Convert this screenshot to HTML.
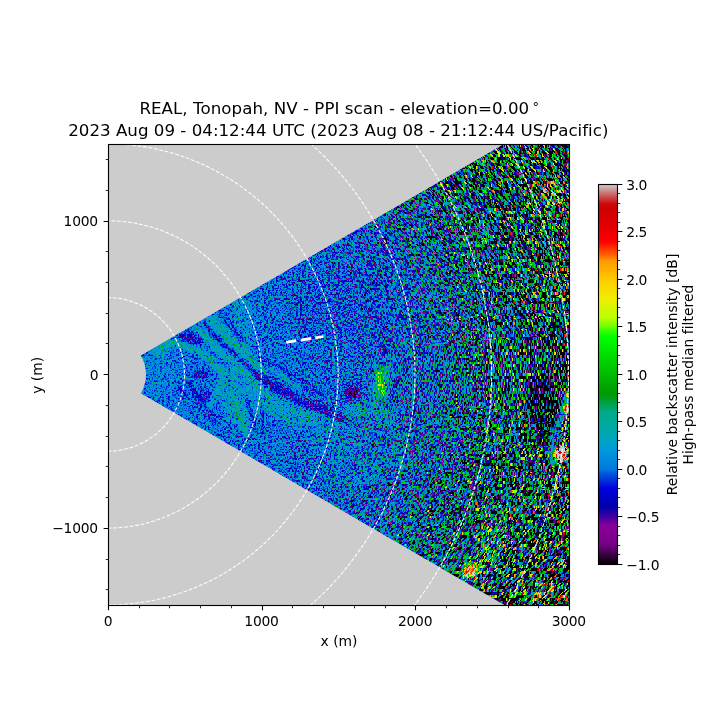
<!DOCTYPE html>
<html lang="en"><head><meta charset="utf-8"><title>REAL PPI scan</title>
<style>html,body{margin:0;padding:0;background:#fff;}body{width:720px;height:720px;overflow:hidden;}svg{display:block;}text{font-family:"DejaVu Sans","Liberation Sans",sans-serif;fill:#000;}</style>
</head><body>
<svg width="720" height="720" viewBox="0 0 720 720">
<defs>
<linearGradient id="cb" x1="0" y1="0" x2="0" y2="1"><stop offset="0.0000" stop-color="#cccccc"/><stop offset="0.0125" stop-color="#cc9c9c"/><stop offset="0.0250" stop-color="#cc6c6c"/><stop offset="0.0375" stop-color="#cc3c3c"/><stop offset="0.0500" stop-color="#cc0c0c"/><stop offset="0.0625" stop-color="#cf0000"/><stop offset="0.0750" stop-color="#d40000"/><stop offset="0.0875" stop-color="#d80000"/><stop offset="0.1000" stop-color="#dc0000"/><stop offset="0.1125" stop-color="#e40000"/><stop offset="0.1250" stop-color="#ec0000"/><stop offset="0.1375" stop-color="#f60000"/><stop offset="0.1500" stop-color="#fe0000"/><stop offset="0.1625" stop-color="#ff2100"/><stop offset="0.1750" stop-color="#ff4500"/><stop offset="0.1875" stop-color="#ff6900"/><stop offset="0.2000" stop-color="#ff9900"/><stop offset="0.2125" stop-color="#ffa500"/><stop offset="0.2250" stop-color="#ffb100"/><stop offset="0.2375" stop-color="#ffbd00"/><stop offset="0.2500" stop-color="#ffc900"/><stop offset="0.2625" stop-color="#fbd500"/><stop offset="0.2750" stop-color="#f7dd00"/><stop offset="0.2875" stop-color="#f3e500"/><stop offset="0.3000" stop-color="#efed00"/><stop offset="0.3125" stop-color="#e4f100"/><stop offset="0.3250" stop-color="#d4f700"/><stop offset="0.3375" stop-color="#c8fb00"/><stop offset="0.3500" stop-color="#bcff00"/><stop offset="0.3625" stop-color="#93ff00"/><stop offset="0.3750" stop-color="#67ff00"/><stop offset="0.3875" stop-color="#2cff00"/><stop offset="0.4000" stop-color="#00ff00"/><stop offset="0.4125" stop-color="#00f700"/><stop offset="0.4250" stop-color="#00ef00"/><stop offset="0.4375" stop-color="#00e700"/><stop offset="0.4500" stop-color="#00dc00"/><stop offset="0.4625" stop-color="#00d400"/><stop offset="0.4750" stop-color="#00cc00"/><stop offset="0.4875" stop-color="#00c400"/><stop offset="0.5000" stop-color="#00bc00"/><stop offset="0.5125" stop-color="#00b200"/><stop offset="0.5250" stop-color="#00aa00"/><stop offset="0.5375" stop-color="#00a200"/><stop offset="0.5500" stop-color="#009a00"/><stop offset="0.5625" stop-color="#009d1d"/><stop offset="0.5750" stop-color="#00a248"/><stop offset="0.5875" stop-color="#00a668"/><stop offset="0.6000" stop-color="#00aa88"/><stop offset="0.6125" stop-color="#00aa90"/><stop offset="0.6250" stop-color="#00aa98"/><stop offset="0.6375" stop-color="#00aaa3"/><stop offset="0.6500" stop-color="#00aaab"/><stop offset="0.6625" stop-color="#00a6b7"/><stop offset="0.6750" stop-color="#00a2c3"/><stop offset="0.6875" stop-color="#009ecf"/><stop offset="0.7000" stop-color="#0098dd"/><stop offset="0.7125" stop-color="#0090dd"/><stop offset="0.7250" stop-color="#0088dd"/><stop offset="0.7375" stop-color="#0080dd"/><stop offset="0.7500" stop-color="#0078dd"/><stop offset="0.7625" stop-color="#0054dd"/><stop offset="0.7750" stop-color="#0038dd"/><stop offset="0.7875" stop-color="#001cdd"/><stop offset="0.8000" stop-color="#0000dd"/><stop offset="0.8125" stop-color="#0000d1"/><stop offset="0.8250" stop-color="#0000c1"/><stop offset="0.8375" stop-color="#0000b5"/><stop offset="0.8500" stop-color="#0300aa"/><stop offset="0.8625" stop-color="#2300a6"/><stop offset="0.8750" stop-color="#4300a2"/><stop offset="0.8875" stop-color="#6d009c"/><stop offset="0.9000" stop-color="#870098"/><stop offset="0.9125" stop-color="#830094"/><stop offset="0.9250" stop-color="#7f0090"/><stop offset="0.9375" stop-color="#7b008c"/><stop offset="0.9500" stop-color="#700080"/><stop offset="0.9625" stop-color="#540060"/><stop offset="0.9750" stop-color="#380040"/><stop offset="0.9875" stop-color="#1c0020"/><stop offset="1.0000" stop-color="#000000"/></linearGradient>
<clipPath id="axclip"><rect x="108.50" y="144.50" width="461.00" height="461.00"/></clipPath>
<clipPath id="zc0"><path clip-rule="evenodd" d="M108.50 374.40m261.23 0a261.23 261.23 0 1 0 -522.47 0a261.23 261.23 0 1 0 522.47 0zM108.50 374.40m36.50 0a36.50 36.50 0 1 0 -73.00 0a36.50 36.50 0 1 0 73.00 0z"/></clipPath>
<filter id="fz0" filterUnits="userSpaceOnUse" x="106" y="142" width="549" height="465" color-interpolation-filters="sRGB">
<feTurbulence type="fractalNoise" baseFrequency="0.73 0.69" numOctaves="1" seed="5" result="t"/>
<feColorMatrix in="t" type="matrix" values="1 0 0 0 0 1 0 0 0 0 1 0 0 0 0 0 0 0 0 1" result="na"/>
<feTurbulence type="fractalNoise" baseFrequency="0.47 0.45" numOctaves="1" seed="15" result="t2"/>
<feColorMatrix in="t2" type="matrix" values="0 1 0 0 0 0 1 0 0 0 0 1 0 0 0 0 0 0 0 1" result="nb"/>
<feFlood x="106" y="142" width="1" height="1" flood-color="#000" result="pf"/>
<feOffset in="pf" dx="0" dy="0" x="106" y="142" width="2" height="2" result="pf2"/>
<feTile in="pf2" result="pts"/>
<feComposite in="nb" in2="pts" operator="in" result="q1"/>
<feOffset in="q1" dx="1" dy="0" result="q2"/><feOffset in="q1" dx="0" dy="1" result="q3"/><feOffset in="q1" dx="1" dy="1" result="q4"/>
<feMerge result="nbp"><feMergeNode in="q1"/><feMergeNode in="q2"/><feMergeNode in="q3"/><feMergeNode in="q4"/></feMerge>
<feComposite in="na" in2="nbp" operator="arithmetic" k1="0" k2="0.7" k3="0.75" k4="-0.225" result="n0"/>
<feOffset in="n0" dx="0" dy="0" result="n"/>
<feComposite in="n" in2="SourceGraphic" operator="arithmetic" k1="5.000" k2="0" k3="-2.500" k4="0.5" result="p"/>
<feComponentTransfer in="p" result="pt"><feFuncG type="table" tableValues="0 0 0 0 0 0 0 0 0 0 0 0 0.035 0.071 0.104 0.135 0.165 0.193 0.22 0.246 0.27 0.293 0.316 0.337 0.358 0.378 0.397 0.416 0.434 0.451 0.468 0.484 0.5 0.515 0.53 0.545 0.559 0.573 0.586 0.6 0.613 0.625 0.637 0.649 0.661 0.673 0.684 0.695 0.706 0.716 0.727 0.737 0.747 0.757 0.766 0.776 0.785 0.794 0.803 0.812 0.821 0.83 0.838 0.846 0.855"/></feComponentTransfer>
<feColorMatrix in="pt" type="matrix" values="0 1 0 0 0 0 1 0 0 0 0 1 0 0 0 0 0 0 0 1" result="pg"/>
<feColorMatrix in="SourceGraphic" type="matrix" values="1 0 0 0 0 1 0 0 0 0 1 0 0 0 0 0 0 0 0 1" result="sr"/>
<feComposite in="pg" in2="sr" operator="arithmetic" k1="0" k2="2" k3="1.5" k4="-1.3" result="v"/>
<feComponentTransfer in="v"><feFuncR type="table" tableValues="0 0.439 0.531 0.01 0 0 0 0 0 0 0 0 0 0.737 0.936 1 1 0.997 0.864 0.8 0.8"/><feFuncG type="table" tableValues="0 0 0 0 0 0.469 0.595 0.665 0.667 0.603 0.739 0.864 1 0.999 0.928 0.788 0.6 0 0 0.047 0.8"/><feFuncB type="table" tableValues="0 0.502 0.597 0.665 0.867 0.867 0.867 0.671 0.533 0 0 0 0 0 0 0 0 0 0 0.047 0.8"/></feComponentTransfer>
</filter>
<clipPath id="zc1"><path clip-rule="evenodd" d="M108.50 374.40m376.48 0a376.48 376.48 0 1 0 -752.97 0a376.48 376.48 0 1 0 752.97 0zM108.50 374.40m260.73 0a260.73 260.73 0 1 0 -521.47 0a260.73 260.73 0 1 0 521.47 0z"/></clipPath>
<filter id="fz1" filterUnits="userSpaceOnUse" x="106" y="142" width="549" height="465" color-interpolation-filters="sRGB">
<feTurbulence type="fractalNoise" baseFrequency="0.73 0.61" numOctaves="1" seed="6" result="t"/>
<feColorMatrix in="t" type="matrix" values="1 0 0 0 0 1 0 0 0 0 1 0 0 0 0 0 0 0 0 1" result="na"/>
<feTurbulence type="fractalNoise" baseFrequency="0.59 0.57" numOctaves="1" seed="16" result="t2"/>
<feColorMatrix in="t2" type="matrix" values="0 1 0 0 0 0 1 0 0 0 0 1 0 0 0 0 0 0 0 1" result="nb"/>
<feComposite in="na" in2="nb" operator="arithmetic" k1="0" k2="0.75" k3="0.75" k4="-0.25" result="n0"/>
<feFlood x="106" y="142" width="549" height="1" flood-color="#000" result="fl"/>
<feOffset in="fl" dx="0" dy="0" x="106" y="142" width="549" height="2" result="fl2"/>
<feTile in="fl2" result="rows"/>
<feComposite in="n0" in2="rows" operator="in" result="s1"/>
<feOffset in="s1" dx="0" dy="1" result="s2"/>
<feMerge result="n1"><feMergeNode in="s1"/><feMergeNode in="s2"/></feMerge>
<feColorMatrix in="SourceGraphic" type="matrix" values="0 0 1 0 0 0 0 0 0 0.5 0 0 0 0 0 0 0 0 0 1" result="dm"/>
<feDisplacementMap in="n1" in2="dm" scale="160" xChannelSelector="R" yChannelSelector="G" result="n"/>
<feComposite in="n" in2="SourceGraphic" operator="arithmetic" k1="5.000" k2="0" k3="-2.500" k4="0.5" result="p"/>
<feComponentTransfer in="p" result="pt"><feFuncG type="table" tableValues="0 0 0 0 0 0 0 0 0 0 0 0 0.035 0.071 0.104 0.135 0.165 0.193 0.22 0.246 0.27 0.293 0.316 0.337 0.358 0.378 0.397 0.416 0.434 0.451 0.468 0.484 0.5 0.515 0.53 0.545 0.559 0.573 0.586 0.6 0.613 0.625 0.637 0.649 0.661 0.673 0.684 0.695 0.706 0.716 0.727 0.737 0.747 0.757 0.766 0.776 0.785 0.794 0.803 0.812 0.821 0.83 0.838 0.846 0.855"/></feComponentTransfer>
<feColorMatrix in="pt" type="matrix" values="0 1 0 0 0 0 1 0 0 0 0 1 0 0 0 0 0 0 0 1" result="pg"/>
<feColorMatrix in="SourceGraphic" type="matrix" values="1 0 0 0 0 1 0 0 0 0 1 0 0 0 0 0 0 0 0 1" result="sr"/>
<feComposite in="pg" in2="sr" operator="arithmetic" k1="0" k2="2" k3="1.5" k4="-1.3" result="v"/>
<feComponentTransfer in="v"><feFuncR type="table" tableValues="0 0.439 0.531 0.01 0 0 0 0 0 0 0 0 0 0.737 0.936 1 1 0.997 0.864 0.8 0.8"/><feFuncG type="table" tableValues="0 0 0 0 0 0.469 0.595 0.665 0.667 0.603 0.739 0.864 1 0.999 0.928 0.788 0.6 0 0 0.047 0.8"/><feFuncB type="table" tableValues="0 0.502 0.597 0.665 0.867 0.867 0.867 0.671 0.533 0 0 0 0 0 0 0 0 0 0 0.047 0.8"/></feComponentTransfer>
</filter>
<clipPath id="zc2"><path clip-rule="evenodd" d="M108.50 374.40m540.00 0a540.00 540.00 0 1 0 -1080.00 0a540.00 540.00 0 1 0 1080.00 0zM108.50 374.40m375.98 0a375.98 375.98 0 1 0 -751.97 0a375.98 375.98 0 1 0 751.97 0z"/></clipPath>
<filter id="fz2" filterUnits="userSpaceOnUse" x="106" y="142" width="549" height="465" color-interpolation-filters="sRGB">
<feTurbulence type="fractalNoise" baseFrequency="0.73 0.41" numOctaves="1" seed="7" result="t"/>
<feColorMatrix in="t" type="matrix" values="1 0 0 0 0 1 0 0 0 0 1 0 0 0 0 0 0 0 0 1" result="na"/>
<feTurbulence type="fractalNoise" baseFrequency="0.59 0.37" numOctaves="1" seed="17" result="t2"/>
<feColorMatrix in="t2" type="matrix" values="0 1 0 0 0 0 1 0 0 0 0 1 0 0 0 0 0 0 0 1" result="nb"/>
<feComposite in="na" in2="nb" operator="arithmetic" k1="0" k2="0.75" k3="0.75" k4="-0.25" result="n0"/>
<feFlood x="106" y="142" width="549" height="1" flood-color="#000" result="fl"/>
<feOffset in="fl" dx="0" dy="0" x="106" y="142" width="549" height="3" result="fl2"/>
<feTile in="fl2" result="rows"/>
<feComposite in="n0" in2="rows" operator="in" result="s1"/>
<feOffset in="s1" dx="0" dy="1" result="s2"/>
<feOffset in="s1" dx="0" dy="2" result="s3"/>
<feMerge result="n1"><feMergeNode in="s1"/><feMergeNode in="s2"/><feMergeNode in="s3"/></feMerge>
<feColorMatrix in="SourceGraphic" type="matrix" values="0 0 1 0 0 0 0 0 0 0.5 0 0 0 0 0 0 0 0 0 1" result="dm"/>
<feDisplacementMap in="n1" in2="dm" scale="160" xChannelSelector="R" yChannelSelector="G" result="n"/>
<feComposite in="n" in2="SourceGraphic" operator="arithmetic" k1="5.000" k2="0" k3="-2.500" k4="0.5" result="p"/>
<feComponentTransfer in="p" result="pt"><feFuncG type="table" tableValues="0 0 0 0 0 0 0 0 0 0 0 0 0.035 0.071 0.104 0.135 0.165 0.193 0.22 0.246 0.27 0.293 0.316 0.337 0.358 0.378 0.397 0.416 0.434 0.451 0.468 0.484 0.5 0.515 0.53 0.545 0.559 0.573 0.586 0.6 0.613 0.625 0.637 0.649 0.661 0.673 0.684 0.695 0.706 0.716 0.727 0.737 0.747 0.757 0.766 0.776 0.785 0.794 0.803 0.812 0.821 0.83 0.838 0.846 0.855"/></feComponentTransfer>
<feColorMatrix in="pt" type="matrix" values="0 1 0 0 0 0 1 0 0 0 0 1 0 0 0 0 0 0 0 1" result="pg"/>
<feColorMatrix in="SourceGraphic" type="matrix" values="1 0 0 0 0 1 0 0 0 0 1 0 0 0 0 0 0 0 0 1" result="sr"/>
<feComposite in="pg" in2="sr" operator="arithmetic" k1="0" k2="2" k3="1.5" k4="-1.3" result="v"/>
<feComponentTransfer in="v"><feFuncR type="table" tableValues="0 0.439 0.531 0.01 0 0 0 0 0 0 0 0 0 0.737 0.936 1 1 0.997 0.864 0.8 0.8"/><feFuncG type="table" tableValues="0 0 0 0 0 0.469 0.595 0.665 0.667 0.603 0.739 0.864 1 0.999 0.928 0.788 0.6 0 0 0.047 0.8"/><feFuncB type="table" tableValues="0 0.502 0.597 0.665 0.867 0.867 0.867 0.671 0.533 0 0 0 0 0 0 0 0 0 0 0.047 0.8"/></feComponentTransfer>
</filter>
<clipPath id="wclip"><path d="M140.90 355.52L713.31 21.97L713.31 726.83L140.90 393.28A37.50 37.50 0 0 0 140.90 355.52Z"/></clipPath>
<radialGradient id="ampg" gradientUnits="userSpaceOnUse" cx="108.50" cy="374.40" r="560.0"><stop offset="0.0000" stop-color="rgb(0,11,0)"/><stop offset="0.0206" stop-color="rgb(0,11,0)"/><stop offset="0.0412" stop-color="rgb(0,11,0)"/><stop offset="0.0617" stop-color="rgb(0,11,0)"/><stop offset="0.0823" stop-color="rgb(0,11,0)"/><stop offset="0.1029" stop-color="rgb(0,11,0)"/><stop offset="0.1235" stop-color="rgb(0,11,0)"/><stop offset="0.1441" stop-color="rgb(0,11,0)"/><stop offset="0.1646" stop-color="rgb(0,12,0)"/><stop offset="0.1852" stop-color="rgb(0,12,0)"/><stop offset="0.2058" stop-color="rgb(0,12,0)"/><stop offset="0.2264" stop-color="rgb(0,13,0)"/><stop offset="0.2470" stop-color="rgb(0,13,0)"/><stop offset="0.2675" stop-color="rgb(0,13,0)"/><stop offset="0.2881" stop-color="rgb(0,14,0)"/><stop offset="0.3087" stop-color="rgb(0,14,0)"/><stop offset="0.3293" stop-color="rgb(0,15,0)"/><stop offset="0.3499" stop-color="rgb(0,16,0)"/><stop offset="0.3704" stop-color="rgb(0,17,0)"/><stop offset="0.3910" stop-color="rgb(0,17,0)"/><stop offset="0.4116" stop-color="rgb(0,18,0)"/><stop offset="0.4322" stop-color="rgb(0,19,0)"/><stop offset="0.4528" stop-color="rgb(0,21,0)"/><stop offset="0.4733" stop-color="rgb(0,22,0)"/><stop offset="0.4939" stop-color="rgb(0,24,0)"/><stop offset="0.5145" stop-color="rgb(0,25,0)"/><stop offset="0.5351" stop-color="rgb(0,27,0)"/><stop offset="0.5557" stop-color="rgb(0,30,0)"/><stop offset="0.5762" stop-color="rgb(0,33,0)"/><stop offset="0.5968" stop-color="rgb(0,37,0)"/><stop offset="0.6174" stop-color="rgb(0,41,0)"/><stop offset="0.6380" stop-color="rgb(0,47,0)"/><stop offset="0.6586" stop-color="rgb(0,53,0)"/><stop offset="0.6792" stop-color="rgb(0,59,0)"/><stop offset="0.6997" stop-color="rgb(0,65,0)"/><stop offset="0.7203" stop-color="rgb(0,69,0)"/><stop offset="0.7409" stop-color="rgb(0,74,0)"/><stop offset="0.7615" stop-color="rgb(0,79,0)"/><stop offset="0.7821" stop-color="rgb(0,86,0)"/><stop offset="0.8026" stop-color="rgb(0,92,0)"/><stop offset="0.8232" stop-color="rgb(0,98,0)"/><stop offset="0.8438" stop-color="rgb(0,104,0)"/><stop offset="0.8644" stop-color="rgb(0,110,0)"/><stop offset="0.8850" stop-color="rgb(0,117,0)"/><stop offset="0.9055" stop-color="rgb(0,123,0)"/><stop offset="0.9261" stop-color="rgb(0,125,0)"/><stop offset="0.9467" stop-color="rgb(0,127,0)"/><stop offset="0.9673" stop-color="rgb(0,130,0)"/><stop offset="0.9879" stop-color="rgb(0,132,0)"/></radialGradient>
<filter id="mblur" filterUnits="userSpaceOnUse" x="88" y="124" width="501" height="501" color-interpolation-filters="sRGB"><feGaussianBlur stdDeviation="1.6"/></filter>
<radialGradient id="baseg" gradientUnits="userSpaceOnUse" cx="108.50" cy="374.40" r="560.0"><stop offset="0.0000" stop-color="rgb(97,0,0)"/><stop offset="0.3293" stop-color="rgb(96,0,0)"/><stop offset="0.4939" stop-color="rgb(95,0,0)"/><stop offset="0.6311" stop-color="rgb(94,0,0)"/><stop offset="0.7409" stop-color="rgb(86,0,0)"/><stop offset="0.9879" stop-color="rgb(82,0,0)"/></radialGradient>
<linearGradient id="dg0" gradientUnits="userSpaceOnUse" x1="148.5" y1="212.2" x2="68.5" y2="536.6"><stop offset="0" stop-color="#000"/><stop offset="1" stop-color="#00f"/></linearGradient>
<linearGradient id="dg1" gradientUnits="userSpaceOnUse" x1="148.5" y1="174.9" x2="68.5" y2="573.9"><stop offset="0" stop-color="#000"/><stop offset="1" stop-color="#00f"/></linearGradient>
<linearGradient id="dg2" gradientUnits="userSpaceOnUse" x1="148.5" y1="116.5" x2="68.5" y2="632.3"><stop offset="0" stop-color="#000"/><stop offset="1" stop-color="#00f"/></linearGradient>
<linearGradient id="dg3" gradientUnits="userSpaceOnUse" x1="148.5" y1="12.0" x2="68.5" y2="736.8"><stop offset="0" stop-color="#000"/><stop offset="1" stop-color="#00f"/></linearGradient>
<linearGradient id="dg4" gradientUnits="userSpaceOnUse" x1="148.5" y1="-231.2" x2="68.5" y2="980.0"><stop offset="0" stop-color="#000"/><stop offset="1" stop-color="#00f"/></linearGradient>
<linearGradient id="dg5" gradientUnits="userSpaceOnUse" x1="148.5" y1="-1444.8" x2="68.5" y2="2193.6"><stop offset="0" stop-color="#000"/><stop offset="1" stop-color="#00f"/></linearGradient>
<linearGradient id="dg6" gradientUnits="userSpaceOnUse" x1="148.5" y1="2193.6" x2="68.5" y2="-1444.8"><stop offset="0" stop-color="#000"/><stop offset="1" stop-color="#00f"/></linearGradient>
<linearGradient id="dg7" gradientUnits="userSpaceOnUse" x1="148.5" y1="980.0" x2="68.5" y2="-231.2"><stop offset="0" stop-color="#000"/><stop offset="1" stop-color="#00f"/></linearGradient>
<linearGradient id="dg8" gradientUnits="userSpaceOnUse" x1="148.5" y1="736.8" x2="68.5" y2="12.0"><stop offset="0" stop-color="#000"/><stop offset="1" stop-color="#00f"/></linearGradient>
<linearGradient id="dg9" gradientUnits="userSpaceOnUse" x1="148.5" y1="632.3" x2="68.5" y2="116.5"><stop offset="0" stop-color="#000"/><stop offset="1" stop-color="#00f"/></linearGradient>
<linearGradient id="dg10" gradientUnits="userSpaceOnUse" x1="148.5" y1="573.9" x2="68.5" y2="174.9"><stop offset="0" stop-color="#000"/><stop offset="1" stop-color="#00f"/></linearGradient>
<linearGradient id="dg11" gradientUnits="userSpaceOnUse" x1="148.5" y1="536.6" x2="68.5" y2="212.2"><stop offset="0" stop-color="#000"/><stop offset="1" stop-color="#00f"/></linearGradient>
<g id="dispf" shape-rendering="crispEdges"><path d="M108.50 374.40L643.85 725.12L687.63 646.81Z" fill="url(#dg0)"/><path d="M108.50 374.40L687.63 646.81L709.32 594.90Z" fill="url(#dg1)"/><path d="M108.50 374.40L709.32 594.90L726.36 541.28Z" fill="url(#dg2)"/><path d="M108.50 374.40L726.36 541.28L738.63 486.38Z" fill="url(#dg3)"/><path d="M108.50 374.40L738.63 486.38L746.03 430.61Z" fill="url(#dg4)"/><path d="M108.50 374.40L746.03 430.61L748.50 374.40Z" fill="#000080"/><path d="M108.50 374.40L748.50 374.40L746.03 318.19Z" fill="#000080"/><path d="M108.50 374.40L746.03 318.19L738.63 262.42Z" fill="url(#dg7)"/><path d="M108.50 374.40L738.63 262.42L726.36 207.52Z" fill="url(#dg8)"/><path d="M108.50 374.40L726.36 207.52L709.32 153.90Z" fill="url(#dg9)"/><path d="M108.50 374.40L709.32 153.90L687.63 101.99Z" fill="url(#dg10)"/><path d="M108.50 374.40L687.63 101.99L643.85 23.68Z" fill="url(#dg11)"/></g>
<g id="meanf"><rect x="106" y="142" width="549" height="465" fill="url(#baseg)"/><g filter="url(#mblur)">
<ellipse cx="160.0" cy="372.0" rx="18.0" ry="22.0" fill="rgb(99,0,0)"/>
<path d="M200.0 322.0L222.0 312.0L246.0 340.0L262.0 372.0L250.0 380.0L225.0 360.0L206.0 340.0Z" fill="rgb(105,0,0)"/>
<path d="M222.0 366.0L262.0 372.0L270.0 395.0L245.0 432.0L228.0 420.0L215.0 390.0Z" fill="rgb(104,0,0)"/>
<path d="M228.0 300.0L252.0 296.0L256.0 345.0L236.0 340.0Z" fill="rgb(101,0,0)"/>
<ellipse cx="365.0" cy="414.0" rx="26.0" ry="13.0" fill="rgb(105,0,0)"/>
<ellipse cx="381.0" cy="384.0" rx="11.0" ry="22.0" transform="rotate(12 381.0 384.0)" fill="rgb(105,0,0)"/>
<ellipse cx="381.0" cy="384.0" rx="7.0" ry="18.0" transform="rotate(12 381.0 384.0)" fill="rgb(114,0,0)"/>
<ellipse cx="490.0" cy="542.0" rx="18.0" ry="20.0" fill="rgb(110,0,0)"/>
<ellipse cx="548.0" cy="372.0" rx="19.0" ry="70.0" fill="rgb(76,0,0)"/>
<ellipse cx="544.0" cy="410.0" rx="16.0" ry="36.0" fill="rgb(54,0,0)"/>
<ellipse cx="543.0" cy="410.0" rx="11.0" ry="28.0" fill="rgb(44,0,0)"/>
<path d="M262.0 392.0L300.0 402.0L345.0 418.0L350.0 440.0L300.0 432.0L265.0 412.0Z" fill="rgb(105,0,0)"/>
<path d="M300.0 425.0L400.0 412.0L420.0 470.0L330.0 490.0Z" fill="rgb(99,0,0)"/>
<path d="M290.0 290.0L400.0 230.0L420.0 330.0L300.0 340.0Z" fill="rgb(92,0,0)"/>
<ellipse cx="553.0" cy="193.0" rx="13.0" ry="14.0" fill="rgb(133,0,0)"/>
<path d="M174.7 335.0L195.5 330.8L205.3 343.3L185.8 344.7Z" fill="rgb(83,0,0)"/>
<path d="M195.5 328.0L202.5 335.0L212.2 346.1L223.3 355.8L234.4 364.2L250.0 378.0L262.0 392.0" fill="none" stroke="rgb(110,0,0)" stroke-width="6.0" stroke-linecap="round" stroke-linejoin="round"/>
<path d="M205.3 323.9L212.2 333.6L220.6 341.9L231.7 351.7L243.3 362.0L258.3 375.0" fill="none" stroke="rgb(84,0,0)" stroke-width="5.0" stroke-linecap="round" stroke-linejoin="round"/>
<path d="M258.3 375.0L273.3 386.0L288.3 394.0L305.0 403.3L330.0 412.0L342.0 418.0" fill="none" stroke="rgb(81,0,0)" stroke-width="9.0" stroke-linecap="round" stroke-linejoin="round"/>
<path d="M263.0 393.0L297.0 413.0L332.0 432.0" fill="none" stroke="rgb(107,0,0)" stroke-width="6.0" stroke-linecap="round" stroke-linejoin="round"/>
<path d="M265.0 360.0L300.0 380.0L320.0 395.0" fill="none" stroke="rgb(86,0,0)" stroke-width="4.0" stroke-linecap="round" stroke-linejoin="round"/>
<path d="M212.2 318.3L219.2 328.0L228.9 339.2L240.0 348.9L252.0 362.0L265.0 372.0" fill="none" stroke="rgb(112,0,0)" stroke-width="6.0" stroke-linecap="round" stroke-linejoin="round"/>
<path d="M219.2 312.8L226.1 321.1L234.4 330.8L243.0 340.0" fill="none" stroke="rgb(85,0,0)" stroke-width="4.0" stroke-linecap="round" stroke-linejoin="round"/>
<path d="M160.8 344.7L174.7 342.6L185.8 346.1L198.3 350.3L209.4 358.6L217.8 368.3" fill="none" stroke="rgb(113,0,0)" stroke-width="6.0" stroke-linecap="round" stroke-linejoin="round"/>
<ellipse cx="160.0" cy="351.0" rx="8.0" ry="5.0" fill="rgb(110,0,0)"/>
<ellipse cx="201.0" cy="375.0" rx="8.0" ry="4.0" fill="rgb(80,0,0)"/>
<path d="M178.9 387.8L185.8 396.1" fill="none" stroke="rgb(76,0,0)" stroke-width="3.0" stroke-linecap="round" stroke-linejoin="round"/>
<ellipse cx="205.0" cy="397.0" rx="7.0" ry="7.0" fill="rgb(84,0,0)"/>
<path d="M190.0 384.0L200.0 402.0L215.0 420.0" fill="none" stroke="rgb(85,0,0)" stroke-width="5.0" stroke-linecap="round" stroke-linejoin="round"/>
<path d="M222.5 368.8L218.3 387.5L207.9 408.3" fill="none" stroke="rgb(110,0,0)" stroke-width="4.0" stroke-linecap="round" stroke-linejoin="round"/>
<path d="M232.0 395.0L238.0 415.0L246.0 432.0" fill="none" stroke="rgb(114,0,0)" stroke-width="5.0" stroke-linecap="round" stroke-linejoin="round"/>
<path d="M247.0 400.0L256.0 430.0" fill="none" stroke="rgb(85,0,0)" stroke-width="4.0" stroke-linecap="round" stroke-linejoin="round"/>
<path d="M271.7 368.3L296.7 386.7" fill="none" stroke="rgb(109,0,0)" stroke-width="5.0" stroke-linecap="round" stroke-linejoin="round"/>
<ellipse cx="352.0" cy="393.0" rx="9.0" ry="8.0" fill="rgb(80,0,0)"/>
<ellipse cx="352.0" cy="393.0" rx="4.5" ry="4.0" fill="rgb(58,0,0)"/>
<ellipse cx="380.8" cy="383.3" rx="3.5" ry="14.0" transform="rotate(-14 380.8 383.3)" fill="rgb(153,0,0)"/>
<ellipse cx="385.0" cy="351.0" rx="3.5" ry="2.5" fill="rgb(68,0,0)"/>
<ellipse cx="396.0" cy="383.0" rx="3.0" ry="3.5" fill="rgb(68,0,0)"/>
<path d="M567.5 393.0L561.0 418.0L553.0 440.0L551.0 462.0" fill="none" stroke="rgb(102,0,0)" stroke-width="7.0" stroke-linecap="round" stroke-linejoin="round"/>
<ellipse cx="559.5" cy="455.0" rx="7.0" ry="9.5" transform="rotate(15 559.5 455.0)" fill="rgb(153,0,0)"/>
<ellipse cx="562.0" cy="453.0" rx="6.5" ry="7.5" fill="rgb(238,0,0)"/>
<ellipse cx="567.0" cy="409.0" rx="3.5" ry="4.5" fill="rgb(238,0,0)"/>
<ellipse cx="568.0" cy="395.0" rx="2.0" ry="2.5" fill="rgb(238,0,0)"/>
<ellipse cx="471.0" cy="571.0" rx="10.0" ry="10.0" fill="rgb(150,0,0)"/>
<ellipse cx="471.0" cy="571.0" rx="5.5" ry="6.0" fill="rgb(197,0,0)"/>
<ellipse cx="545.0" cy="592.0" rx="25.0" ry="12.0" fill="rgb(104,0,0)"/>
</g></g>
<g id="ampf"><rect x="106" y="142" width="549" height="465" fill="url(#ampg)"/><g filter="url(#mblur)">
<path d="M567.5 393.0L561.0 418.0L553.0 440.0L551.0 462.0" fill="none" stroke="rgb(0,12,0)" stroke-width="7.0" stroke-linecap="round" stroke-linejoin="round" opacity="0.92"/>
<ellipse cx="543.0" cy="410.0" rx="13.0" ry="32.0" fill="rgb(0,90,0)" opacity="0.60"/>
<ellipse cx="562.0" cy="453.0" rx="4.5" ry="5.5" fill="rgb(0,25,0)" opacity="0.85"/>
<ellipse cx="567.0" cy="409.0" rx="2.0" ry="3.0" fill="rgb(0,25,0)" opacity="0.80"/>
<ellipse cx="380.8" cy="383.3" rx="5.0" ry="15.0" transform="rotate(-14 380.8 383.3)" fill="rgb(0,20,0)" opacity="0.60"/>
<ellipse cx="471.0" cy="571.0" rx="7.0" ry="7.0" fill="rgb(0,30,0)" opacity="0.75"/>
</g></g>
</defs>
<rect x="0" y="0" width="720" height="720" fill="#fff"/>
<rect x="108.50" y="144.50" width="461.00" height="461.00" fill="#cccccc"/>
<g clip-path="url(#axclip)"><g clip-path="url(#wclip)">
<g clip-path="url(#zc0)"><g filter="url(#fz0)">
<use href="#ampf"/>
<g style="mix-blend-mode:screen"><use href="#dispf"/></g>
<g style="mix-blend-mode:screen"><use href="#meanf"/></g>
</g></g>
<g clip-path="url(#zc1)"><g filter="url(#fz1)">
<use href="#ampf"/>
<g style="mix-blend-mode:screen"><use href="#dispf"/></g>
<g style="mix-blend-mode:screen"><use href="#meanf"/></g>
</g></g>
<g clip-path="url(#zc2)"><g filter="url(#fz2)">
<use href="#ampf"/>
<g style="mix-blend-mode:screen"><use href="#dispf"/></g>
<g style="mix-blend-mode:screen"><use href="#meanf"/></g>
</g></g>
</g></g>
<g clip-path="url(#axclip)" fill="none" stroke="#fff" stroke-width="1.04" stroke-dasharray="3.85 1.67">
<path d="M107.60 451.23 A76.83 76.83 0 0 0 107.60 297.57"/>
<path d="M107.60 528.07 A153.67 153.67 0 0 0 107.60 220.73"/>
<path d="M107.60 604.90 A230.50 230.50 0 0 0 107.60 143.90"/>
<path d="M107.60 681.73 A307.33 307.33 0 0 0 107.60 67.07"/>
<path d="M107.60 758.57 A384.17 384.17 0 0 0 107.60 -9.77"/>
<path d="M107.60 835.40 A461.00 461.00 0 0 0 107.60 -86.60"/>
</g>
<path d="M286.2 342.3L323.6 336.5" stroke="#fff" stroke-width="2.78" stroke-dasharray="10.28 4.44" fill="none"/>
<rect x="108.50" y="144.50" width="461.00" height="461.00" fill="none" stroke="#000" stroke-width="1.11"/>
<path d="M108.50 605.50v4.86M262.50 605.50v4.86M415.50 605.50v4.86M569.50 605.50v4.86M108.50 528.50h-4.86M108.50 374.50h-4.86M108.50 221.50h-4.86M617.50 564.50h4.86M617.50 516.50h4.86M617.50 469.50h4.86M617.50 421.50h4.86M617.50 374.50h4.86M617.50 326.50h4.86M617.50 279.50h4.86M617.50 231.50h4.86M617.50 184.50h4.86" stroke="#000" stroke-width="1.11" fill="none"/>
<path d="M139.50 605.50v2.78M169.50 605.50v2.78M200.50 605.50v2.78M231.50 605.50v2.78M292.50 605.50v2.78M323.50 605.50v2.78M354.50 605.50v2.78M385.50 605.50v2.78M446.50 605.50v2.78M477.50 605.50v2.78M508.50 605.50v2.78M538.50 605.50v2.78M108.50 589.50h-2.78M108.50 559.50h-2.78M108.50 497.50h-2.78M108.50 466.50h-2.78M108.50 436.50h-2.78M108.50 405.50h-2.78M108.50 343.50h-2.78M108.50 313.50h-2.78M108.50 282.50h-2.78M108.50 251.50h-2.78M108.50 190.50h-2.78M108.50 159.50h-2.78M617.50 554.50h2.78M617.50 545.50h2.78M617.50 535.50h2.78M617.50 526.50h2.78M617.50 507.50h2.78M617.50 497.50h2.78M617.50 488.50h2.78M617.50 478.50h2.78M617.50 459.50h2.78M617.50 450.50h2.78M617.50 440.50h2.78M617.50 431.50h2.78M617.50 412.50h2.78M617.50 402.50h2.78M617.50 393.50h2.78M617.50 383.50h2.78M617.50 364.50h2.78M617.50 355.50h2.78M617.50 345.50h2.78M617.50 336.50h2.78M617.50 317.50h2.78M617.50 307.50h2.78M617.50 298.50h2.78M617.50 288.50h2.78M617.50 269.50h2.78M617.50 260.50h2.78M617.50 250.50h2.78M617.50 241.50h2.78M617.50 222.50h2.78M617.50 212.50h2.78M617.50 203.50h2.78M617.50 193.50h2.78" stroke="#000" stroke-width="0.83" fill="none"/>
<rect x="598.50" y="184.50" width="19.00" height="380.00" fill="url(#cb)" stroke="#000" stroke-width="1.11"/>
<g font-size="13.89">
<text x="108.20" y="625.72" text-anchor="middle" letter-spacing="0">0</text>
<text x="261.47" y="625.72" text-anchor="middle" letter-spacing="-0.25">1000</text>
<text x="415.13" y="625.72" text-anchor="middle" letter-spacing="-0.25">2000</text>
<text x="568.80" y="625.72" text-anchor="middle" letter-spacing="-0.25">3000</text>
<text x="97.90" y="533.40" text-anchor="end" letter-spacing="-0.25">−1000</text>
<text x="98.50" y="380.30" text-anchor="end" letter-spacing="0">0</text>
<text x="97.90" y="225.60" text-anchor="end" letter-spacing="-0.25">1000</text>
<text x="626.22" y="569.70" letter-spacing="-0.15">−1.0</text>
<text x="626.22" y="522.20" letter-spacing="-0.15">−0.5</text>
<text x="626.22" y="474.70" letter-spacing="-0.45">0.0</text>
<text x="626.22" y="427.20" letter-spacing="-0.45">0.5</text>
<text x="626.22" y="379.70" letter-spacing="-0.45">1.0</text>
<text x="626.22" y="332.20" letter-spacing="-0.45">1.5</text>
<text x="626.22" y="284.70" letter-spacing="-0.45">2.0</text>
<text x="626.22" y="237.20" letter-spacing="-0.45">2.5</text>
<text x="626.22" y="189.70" letter-spacing="-0.45">3.0</text>
<text x="339.00" y="645.80" text-anchor="middle">x (m)</text>
<text transform="translate(41.90 375.30) rotate(-90)" text-anchor="middle">y (m)</text>
<text transform="translate(676.50 374.50) rotate(-90)" text-anchor="middle" letter-spacing="0.05">Relative backscatter intensity [dB]</text>
<text transform="translate(692.50 374.50) rotate(-90)" text-anchor="middle" letter-spacing="0.04">High-pass median filtered</text>
</g>
<g font-size="16.67">
<text x="139.4" y="114.1" letter-spacing="0.048">REAL, Tonopah, NV - PPI scan - elevation=0.00<tspan x="532.4" y="111.4" font-size="13" letter-spacing="0">°</tspan></text>
<text x="68.2" y="135.7" letter-spacing="0.013">2023 Aug 09 - 04:12:44 UTC (2023 Aug 08 - 21:12:44 US/Pacific)</text>
</g>
</svg>
</body></html>
